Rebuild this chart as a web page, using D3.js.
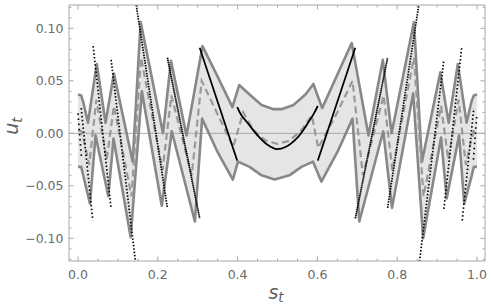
<!DOCTYPE html>
<html><head><meta charset="utf-8">
<script src="https://cdn.jsdelivr.net/npm/d3@7"></script>
<style>body{margin:0;background:#fff}svg{display:block}</style>
</head><body>
<svg id="c" width="491" height="308"></svg>
<script>
// ---- data ----
const upperBand = [[0.000,0.037],[0.008,0.036],[0.013,0.030],[0.025,0.010],[0.047,0.066],[0.069,0.010],[0.090,0.057],[0.137,-0.027],[0.157,0.106],[0.213,0.000],[0.233,0.069],[0.272,-0.002],[0.312,0.083],[0.35,0.054],[0.387,0.025],[0.404,0.046],[0.43,0.037],[0.46,0.027],[0.49,0.023],[0.51,0.023],[0.54,0.027],[0.57,0.037],[0.590,0.047],[0.612,0.024],[0.686,0.086],[0.728,-0.002],[0.764,0.070],[0.786,0.000],[0.842,0.106],[0.862,-0.027],[0.908,0.058],[0.929,0.010],[0.952,0.066],[0.974,0.010],[0.986,0.030],[0.992,0.036],[1.000,0.037]];
const lowerBand = [[0.000,-0.032],[0.008,-0.032],[0.013,-0.040],[0.030,-0.067],[0.044,-0.002],[0.076,-0.060],[0.089,-0.005],[0.132,-0.099],[0.160,0.040],[0.210,-0.069],[0.235,0.002],[0.293,-0.084],[0.311,0.014],[0.35,-0.018],[0.388,-0.044],[0.401,-0.027],[0.43,-0.032],[0.46,-0.040],[0.493,-0.044],[0.53,-0.040],[0.56,-0.032],[0.589,-0.027],[0.610,-0.046],[0.650,-0.018],[0.688,0.014],[0.705,-0.084],[0.765,0.002],[0.787,-0.071],[0.840,0.038],[0.865,-0.100],[0.910,-0.004],[0.924,-0.062],[0.955,-0.002],[0.968,-0.067],[0.987,-0.040],[0.992,-0.032],[1.000,-0.032]];
const meanLine = [[0.000,0.003],[0.008,0.002],[0.013,-0.004],[0.028,-0.030],[0.046,0.032],[0.072,-0.025],[0.090,0.026],[0.134,-0.060],[0.158,0.072],[0.212,-0.035],[0.234,0.036],[0.285,-0.040],[0.310,0.050],[0.35,0.018],[0.389,-0.013],[0.414,0.020],[0.44,0.003],[0.47,-0.007],[0.50,-0.010],[0.53,-0.007],[0.56,0.003],[0.586,0.017],[0.602,-0.014],[0.65,0.020],[0.688,0.050],[0.714,-0.040],[0.766,0.036],[0.788,-0.035],[0.842,0.072],[0.866,-0.060],[0.910,0.026],[0.928,-0.025],[0.954,0.032],[0.972,-0.030],[0.987,-0.004],[0.992,0.002],[1.000,0.003]];
// true policy: straight pieces (start, end) and the central curved piece
const truePieces = [
  [[0.000,0.019],[0.009,-0.025]],
  [[0.008,0.024],[0.037,-0.083]],
  [[0.038,0.083],[0.083,-0.072]],
  [[0.083,0.070],[0.144,-0.122]],
  [[0.146,0.122],[0.224,-0.071]],
  [[0.224,0.072],[0.305,-0.081]],
  [[0.305,0.0815],[0.399,-0.026]],
  [[0.601,-0.026],[0.695,0.0815]],
  [[0.695,-0.081],[0.776,0.072]],
  [[0.776,-0.071],[0.854,0.122]],
  [[0.856,-0.122],[0.917,0.070]],
  [[0.917,-0.072],[0.962,0.083]],
  [[0.963,-0.083],[0.992,0.024]],
  [[0.991,-0.025],[1.000,0.019]]
];
const trueCentre = [[0.399,0.025],[0.41,0.017],[0.426,0.0095],[0.45,-0.002],[0.475,-0.011],[0.497,-0.015],[0.52,-0.013],[0.55,-0.004],[0.575,0.009],[0.59,0.018],[0.601,0.026]];
const xTicks = [0,0.2,0.4,0.6,0.8,1.0];
const xTickLabels = ["0.0","0.2","0.4","0.6","0.8","1.0"];
const yTicks = [-0.10,-0.05,0,0.05,0.10];
const yTickLabels = ["\u22120.10","\u22120.05","0.00","0.05","0.10"];
const xMinor = [0.05,0.1,0.15,0.25,0.3,0.35,0.45,0.5,0.55,0.65,0.7,0.75,0.85,0.9,0.95];
const yMinor = [-0.12,-0.11,-0.09,-0.08,-0.07,-0.06,-0.04,-0.03,-0.02,-0.01,0.01,0.02,0.03,0.04,0.06,0.07,0.08,0.09,0.11,0.12];

// ---- layout ----
const L=69,R=485,T=5,B=261;
const x = d3.scaleLinear().domain([-0.02256,1.02005]).range([L,R]);
const y = d3.scaleLinear().domain([-0.1216,0.1222]).range([B,T]);
const svg = d3.select("#c");
svg.append("defs").append("clipPath").attr("id","clip").append("rect")
  .attr("x",L).attr("y",T).attr("width",R-L).attr("height",B-T);
const g = svg.append("g").attr("clip-path","url(#clip)");
const line = d3.line().x(d=>x(d[0])).y(d=>y(d[1]));

// band
g.append("path").attr("d", line(upperBand.concat(lowerBand.slice().reverse()))+"Z")
  .attr("fill","#e5e5e5").attr("stroke","none");
// zero line
g.append("line").attr("x1",L).attr("x2",R).attr("y1",y(0)).attr("y2",y(0))
  .attr("stroke","#a0a0a0").attr("stroke-width",0.9);
// band edges
[upperBand,lowerBand].forEach(d=>g.append("path").attr("d",line(d)).attr("fill","none")
  .attr("stroke","#888").attr("stroke-width",2.6).attr("stroke-linejoin","round"));
// mean dashed
g.append("path").attr("d",line(meanLine)).attr("fill","none")
  .attr("stroke","#999").attr("stroke-width",2.2).attr("stroke-dasharray","7,4");
// true pieces (sampled points look -> dotted)
truePieces.forEach(p=>{
  const m = (p[1][1]-p[0][1])/(p[1][0]-p[0][0]);
  const period = Math.hypot(0.399, 1.05*m);
  const attrs = period<1.8 ? null : `1.5,${(period-1.5).toFixed(2)}`;
  const path = g.append("path").attr("d",line(p)).attr("fill","none")
    .attr("stroke","#000").attr("stroke-width",1.7);
  if(attrs) path.attr("stroke-dasharray",attrs);
});
g.append("path").attr("d",line.curve(d3.curveCatmullRom)(trueCentre)).attr("fill","none")
  .attr("stroke","#000").attr("stroke-width",1.8);
line.curve(d3.curveLinear);

// frame
svg.append("rect").attr("x",L).attr("y",T).attr("width",R-L).attr("height",B-T)
  .attr("fill","none").attr("stroke","#a8a8a8").attr("stroke-width",1);
const tickC="#a8a8a8";
function ticksX(vals,len){
  vals.forEach(v=>{
    svg.append("line").attr("x1",x(v)).attr("x2",x(v)).attr("y1",B).attr("y2",B-len).attr("stroke",tickC);
    svg.append("line").attr("x1",x(v)).attr("x2",x(v)).attr("y1",T).attr("y2",T+len).attr("stroke",tickC);
  });
}
function ticksY(vals,len){
  vals.forEach(v=>{
    svg.append("line").attr("y1",y(v)).attr("y2",y(v)).attr("x1",L).attr("x2",L+len).attr("stroke",tickC);
    svg.append("line").attr("y1",y(v)).attr("y2",y(v)).attr("x1",R).attr("x2",R-len).attr("stroke",tickC);
  });
}
ticksX(xTicks,4.5); ticksX(xMinor,2.5); ticksY(yTicks,4.5); ticksY(yMinor,2.5);

const font="'DejaVu Sans', sans-serif";
xTicks.forEach((v,i)=>svg.append("text").attr("x",x(v)).attr("y",278.5).attr("text-anchor","middle")
  .attr("font-family",font).attr("font-size",12.5).attr("fill","#6a6a6a").text(xTickLabels[i]));
yTicks.forEach((v,i)=>svg.append("text").attr("x",63.5).attr("y",y(v)+4.4).attr("text-anchor","end")
  .attr("font-family",font).attr("font-size",12.5).attr("fill","#6a6a6a").text(yTickLabels[i]));

// axis titles
const xt = svg.append("text").attr("x",276).attr("y",298.5).attr("text-anchor","middle")
  .attr("font-family",font).attr("font-style","italic").attr("font-size",19).attr("fill","#606060");
xt.append("tspan").text("s");
xt.append("tspan").attr("font-size",13.5).attr("dy",3.5).text("t");
const yt = svg.append("text").attr("transform","translate(18,126) rotate(-90)").attr("text-anchor","middle")
  .attr("font-family",font).attr("font-style","italic").attr("font-size",19).attr("fill","#606060");
yt.append("tspan").text("u");
yt.append("tspan").attr("font-size",13.5).attr("dy",3.5).text("t");
</script>
</body></html>
